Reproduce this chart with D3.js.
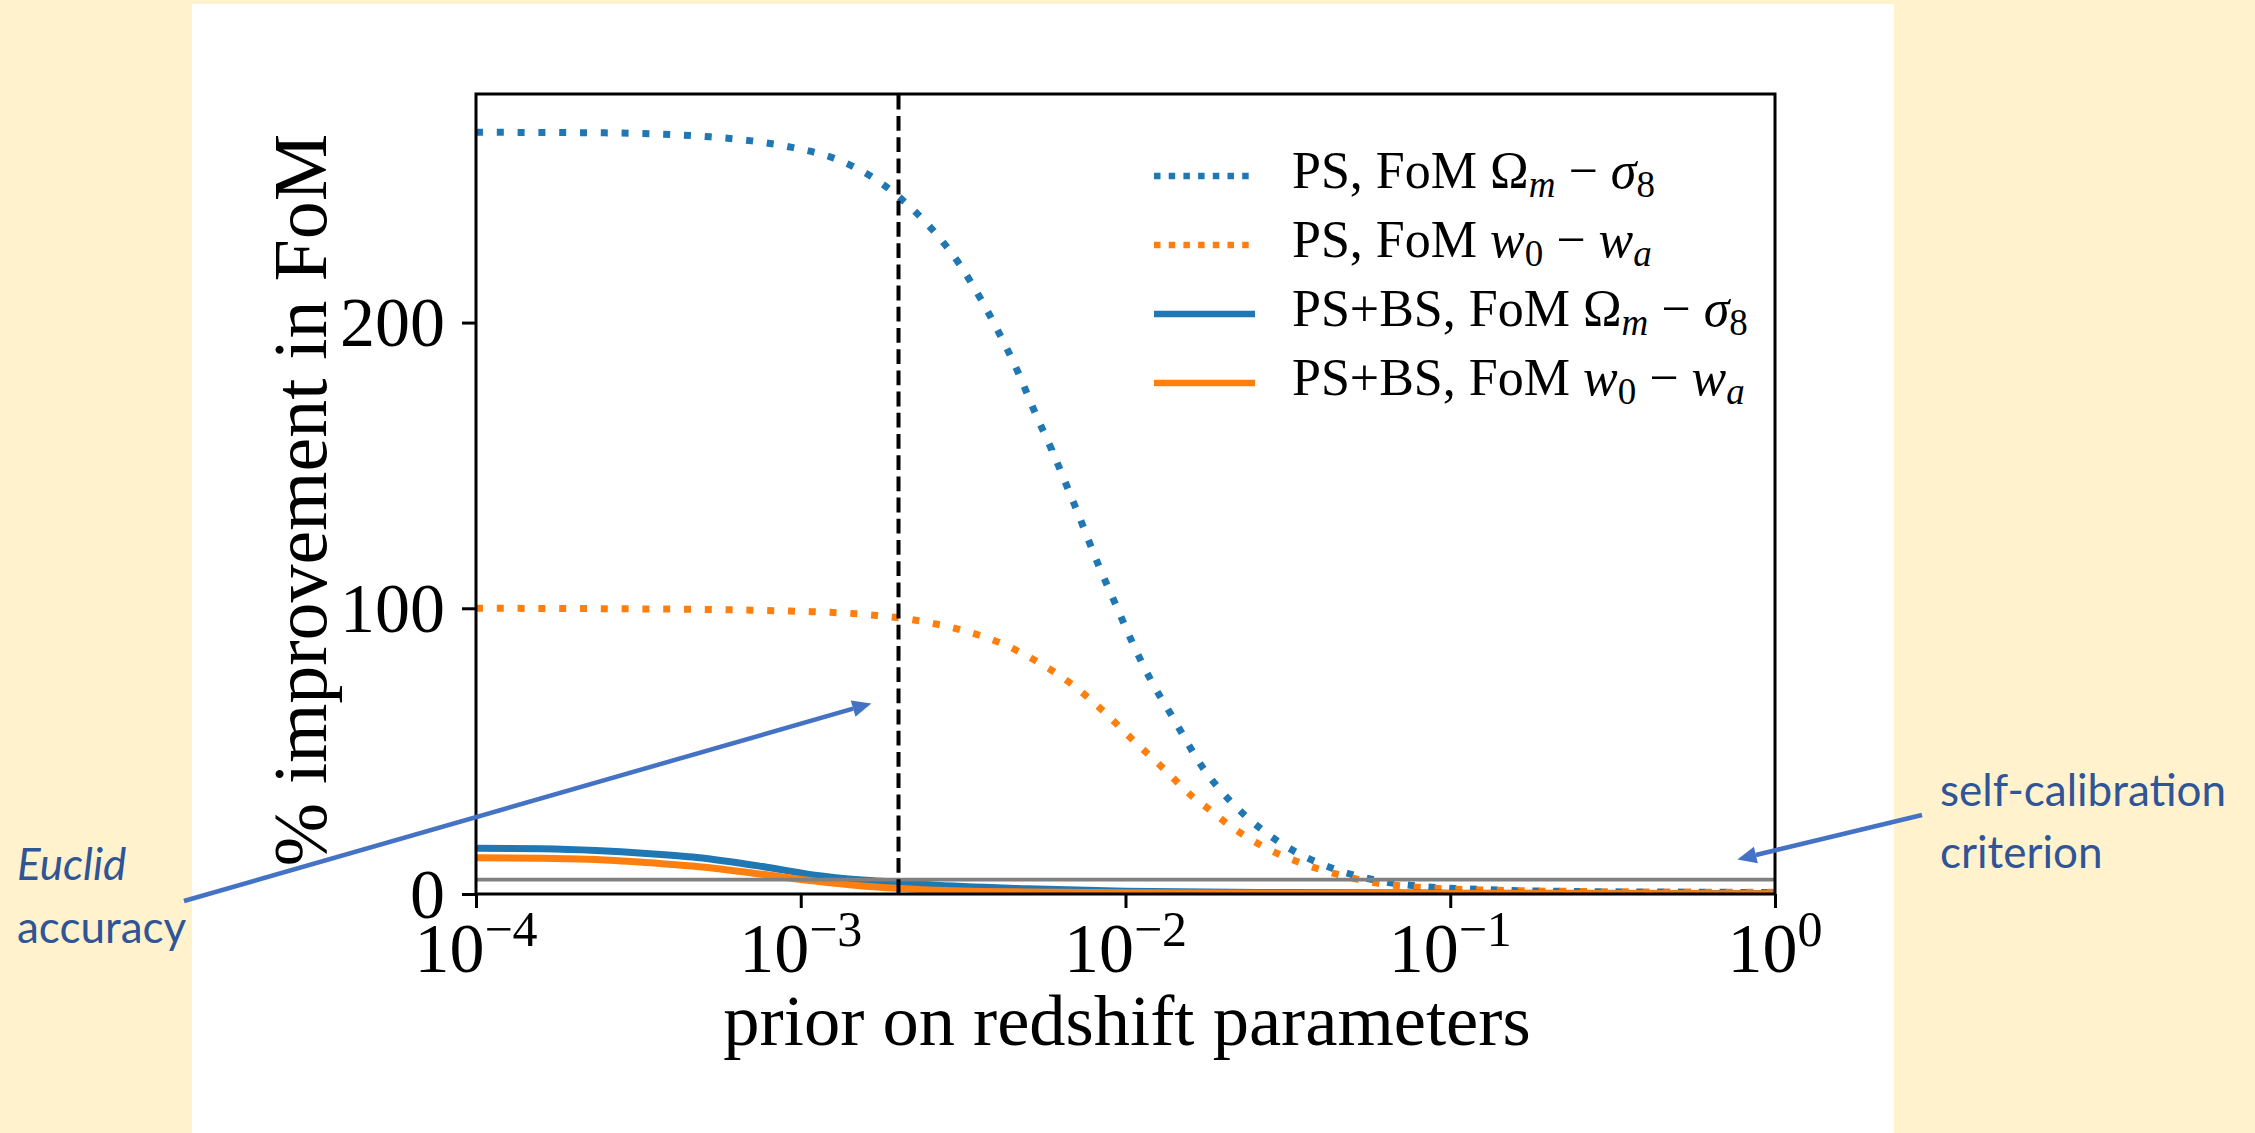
<!DOCTYPE html>
<html>
<head>
<meta charset="utf-8">
<script src="https://cdn.jsdelivr.net/npm/d3@7"></script>
<style>
  body { margin: 0; background: #FFF2CC; }
  svg { display: block; }
</style>
</head>
<body>
<svg id="chart" width="2255" height="1133"></svg>
<script>
// PS only, FoM Omega_m - sigma_8 (dotted blue)
const priorPsOm = [1.0e-4, 2.49e-4, 5.25e-4, 7.06e-4, 9.4e-4, 1.26e-3, 1.64e-3, 1.85e-3, 2.07e-3, 2.55e-3,
  3.07e-3, 3.58e-3, 4.13e-3, 4.69e-3, 5.25e-3, 5.93e-3, 7.03e-3, 8.28e-3, 9.33e-3, 1.05e-2,
  1.20e-2, 1.39e-2, 1.75e-2, 2.12e-2, 2.64e-2, 3.37e-2, 4.44e-2, 5.85e-2, 7.93e-2, 0.123, 0.228, 0.66, 1.0];
const fomPsOm = [266.6, 266.4, 265.0, 263.6, 261.3, 257.6, 251.3, 247.2, 242.6, 232.4,
  220.7, 208.3, 195.2, 182.1, 168.8, 155.4, 135.1, 114.8, 101.3, 88.0,
  74.6, 62.3, 43.4, 32.1, 22.4, 14.5, 8.6, 4.9, 2.8, 1.6, 0.9, 0.6, 0.5];

// PS only, FoM w0 - wa (dotted orange)
const priorPsW = [1.0e-4, 3.16e-4, 1.09e-3, 1.71e-3, 2.29e-3, 3.07e-3, 4.07e-3, 5.32e-3, 6.82e-3, 8.51e-3,
  1.05e-2, 1.31e-2, 1.62e-2, 1.82e-2, 2.05e-2, 2.62e-2, 3.44e-2, 4.56e-2, 6.05e-2, 8.15e-2, 0.126, 0.316, 1.0];
const fomPsW = [100.0, 99.8, 98.8, 97.5, 95.7, 92.6, 88.1, 81.5, 73.5, 64.2,
  54.1, 43.9, 33.8, 29.4, 24.7, 17.0, 11.0, 6.7, 3.7, 2.3, 1.4, 0.8, 0.6];

// PS+BS, FoM Omega_m - sigma_8 (solid blue)
const priorPsBsOm = [1.0e-4, 1.6e-4, 2.34e-4, 3.35e-4, 4.79e-4, 7.64e-4, 1.09e-3, 1.55e-3, 1.97e-3, 2.49e-3, 5.0e-3, 1.0e-2, 3.16e-2, 0.1, 1.0];
const fomPsBsOm = [16.0, 15.8, 15.2, 14.2, 12.8, 9.6, 6.7, 4.9, 4.1, 3.2, 1.8, 1.0, 0.5, 0.3, 0.2];

// PS+BS, FoM w0 - wa (solid orange)
const priorPsBsW = [1.0e-4, 1.6e-4, 2.34e-4, 3.35e-4, 4.79e-4, 7.64e-4, 1.09e-3, 1.55e-3, 1.97e-3, 2.49e-3, 5.0e-3, 1.0e-2, 0.1, 1.0];
const fomPsBsW = [12.7, 12.5, 12.1, 11.0, 9.6, 6.9, 4.6, 2.8, 2.0, 1.4, 0.7, 0.4, 0.2, 0.1];

const selfCalibration = 5;      // % threshold (grey line)
const euclidPrior = 2e-3;       // dashed vertical line

const xTicks = [1e-4, 1e-3, 1e-2, 1e-1, 1];
const xTickExp = ['\u22124', '\u22123', '\u22122', '\u22121', '0'];
const yTicks = [0, 100, 200];

const blue = '#1f77b4', orange = '#ff7f0e';

const svg = d3.select('#chart');

// white slide panel
svg.append('rect').attr('x', 192).attr('y', 4).attr('width', 1702).attr('height', 1129).attr('fill', '#ffffff');

const x = d3.scaleLog().domain([1e-4, 1]).range([476, 1775]);
const y = d3.scaleLinear().domain([0, 280]).range([894, 94]);

svg.append('clipPath').attr('id', 'plotclip')
  .append('rect').attr('x', 476).attr('y', 94).attr('width', 1299).attr('height', 800);

const line = d3.line()
  .x(d => x(d[0]))
  .y(d => y(d[1]))
  .curve(d3.curveMonotoneX);

const series = [
  { px: priorPsOm, py: fomPsOm, color: blue, dash: '7,13.8', label: [['PS, FoM '], ['\u03A9'], ['m', 'i', 'sub'], [' \u2212 '], ['\u03C3', 'i'], ['8', '', 'sub']] },
  { px: priorPsW, py: fomPsW, color: orange, dash: '7,13.8', label: [['PS, FoM '], ['w', 'i'], ['0', '', 'sub'], [' \u2212 '], ['w', 'i'], ['a', 'i', 'sub']] },
  { px: priorPsBsOm, py: fomPsBsOm, color: blue, dash: null, label: [['PS+BS, FoM '], ['\u03A9'], ['m', 'i', 'sub'], [' \u2212 '], ['\u03C3', 'i'], ['8', '', 'sub']] },
  { px: priorPsBsW, py: fomPsBsW, color: orange, dash: null, label: [['PS+BS, FoM '], ['w', 'i'], ['0', '', 'sub'], [' \u2212 '], ['w', 'i'], ['a', 'i', 'sub']] }
];

const plot = svg.append('g').attr('clip-path', 'url(#plotclip)');

series.forEach(s => {
  plot.append('path')
    .datum(s.px.map((p, i) => [p, s.py[i]]))
    .attr('d', line)
    .attr('fill', 'none')
    .attr('stroke', s.color)
    .attr('stroke-width', 7)
    .attr('stroke-dasharray', s.dash)
    .attr('stroke-linecap', 'butt');
});

// self-calibration criterion
plot.append('line')
  .attr('x1', x(1e-4)).attr('x2', x(1))
  .attr('y1', y(selfCalibration)).attr('y2', y(selfCalibration))
  .attr('stroke', '#808080').attr('stroke-width', 3.7);

// Euclid accuracy
plot.append('line')
  .attr('x1', x(euclidPrior)).attr('x2', x(euclidPrior))
  .attr('y1', y(0)).attr('y2', y(280))
  .attr('stroke', '#000').attr('stroke-width', 4).attr('stroke-dasharray', '14.8,6.4');

// axes
const serif = '"Liberation Serif", "DejaVu Serif", serif';

const xAxis = svg.append('g').attr('transform', 'translate(0,894)')
  .call(d3.axisBottom(x).tickValues(xTicks).tickSize(14).tickFormat(''));
const yAxis = svg.append('g').attr('transform', 'translate(476,0)')
  .call(d3.axisLeft(y).tickValues(yTicks).tickSize(14).tickFormat(''));
[xAxis, yAxis].forEach(a => {
  a.select('.domain').remove();
  a.selectAll('.tick line').attr('stroke', '#000').attr('stroke-width', 3);
});

svg.append('rect').attr('x', 476).attr('y', 94).attr('width', 1299).attr('height', 800)
  .attr('fill', 'none').attr('stroke', '#000').attr('stroke-width', 3);

// x tick labels 10^n
xTicks.forEach((t, i) => {
  const tx = svg.append('text')
    .attr('x', x(t)).attr('y', 972)
    .attr('text-anchor', 'middle')
    .attr('font-family', serif).attr('font-size', 70);
  tx.append('tspan').text('10');
  tx.append('tspan').attr('dy', -26).attr('font-size', 50).text(xTickExp[i]);
});

// y tick labels
yTicks.forEach(t => {
  svg.append('text')
    .attr('x', 445).attr('y', y(t)).attr('dy', '0.34em')
    .attr('text-anchor', 'end')
    .attr('font-family', serif).attr('font-size', 70)
    .text(t);
});

// axis titles
svg.append('text')
  .attr('x', 1127).attr('y', 1045)
  .attr('text-anchor', 'middle')
  .attr('font-family', serif).attr('font-size', 72.5)
  .text('prior on redshift parameters');

svg.append('text')
  .attr('transform', 'translate(326,500) rotate(-90)')
  .attr('text-anchor', 'middle')
  .attr('font-family', serif).attr('font-size', 76)
  .text('% improvement in FoM');

// legend
const legend = svg.append('g');
series.forEach((s, i) => {
  const ly = 176 + i * 69;
  legend.append('line')
    .attr('x1', 1154).attr('x2', 1255).attr('y1', ly).attr('y2', ly)
    .attr('stroke', s.color).attr('stroke-width', 6.5)
    .attr('stroke-dasharray', s.dash ? '6.5,8.2' : null);
  const t = legend.append('text')
    .attr('x', 1292).attr('y', ly + 12)
    .attr('font-family', serif).attr('font-size', 52);
  let shifted = 0;
  s.label.forEach(([str, style, pos]) => {
    const sp = t.append('tspan').text(str);
    if (style === 'i') sp.attr('font-style', 'italic');
    const want = pos === 'sub' ? 9 : 0;
    if (want !== shifted) { sp.attr('dy', want - shifted); shifted = want; }
    if (pos === 'sub') sp.attr('font-size', 37);
  });
});

// annotations
const noteBlue = '#2F5597', arrowBlue = '#4472C4';
const sans = 'Lato, "Open Sans", sans-serif';

function arrow(x1, y1, x2, y2) {
  const ang = Math.atan2(y2 - y1, x2 - x1);
  const len = 19, hw = 8.5;
  const bx = x2 - len * Math.cos(ang), by = y2 - len * Math.sin(ang);
  svg.append('line')
    .attr('x1', x1).attr('y1', y1).attr('x2', bx).attr('y2', by)
    .attr('stroke', arrowBlue).attr('stroke-width', 4.5);
  const px = -Math.sin(ang), py = Math.cos(ang);
  svg.append('path')
    .attr('d', `M${x2},${y2}L${bx + px * hw},${by + py * hw}L${bx - px * hw},${by - py * hw}Z`)
    .attr('fill', arrowBlue);
}

arrow(184, 901, x(1.65e-3), y(66.7));
arrow(1922, 815, x(0.766), y(12.1));

svg.append('text').attr('x', 17).attr('y', 880)
  .attr('font-family', sans).attr('font-size', 44).attr('font-style', 'italic')
  .attr('fill', noteBlue).text('Euclid');
svg.append('text').attr('x', 17).attr('y', 943)
  .attr('font-family', sans).attr('font-size', 44)
  .attr('fill', noteBlue).text('accuracy');
svg.append('text').attr('x', 1940).attr('y', 806)
  .attr('font-family', sans).attr('font-size', 44)
  .attr('fill', noteBlue).text('self-calibration');
svg.append('text').attr('x', 1940).attr('y', 868)
  .attr('font-family', sans).attr('font-size', 44)
  .attr('fill', noteBlue).text('criterion');
</script>
</body>
</html>
